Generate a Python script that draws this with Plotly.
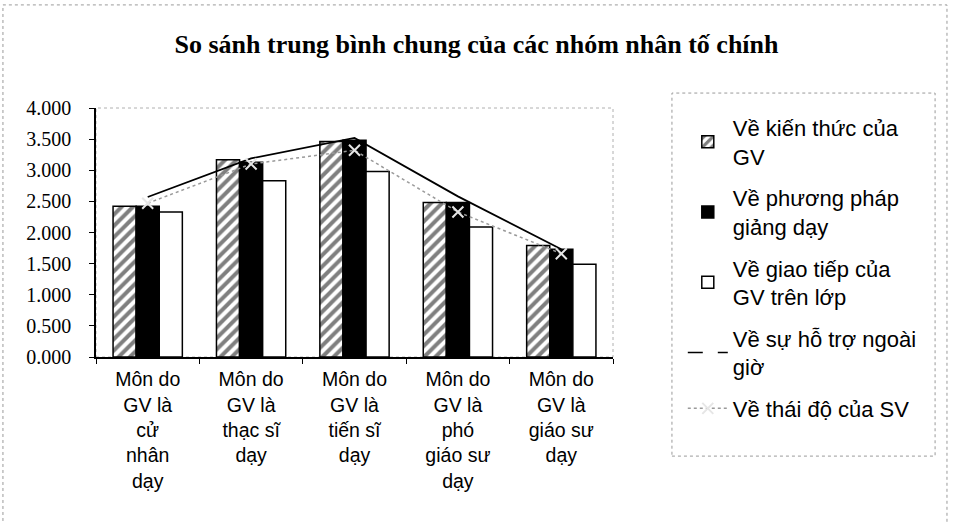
import plotly.graph_objects as go

# Categories (teacher qualification)
categories = [
    "Môn do<br>GV là<br>cử<br>nhân<br>dạy",
    "Môn do<br>GV là<br>thạc sĩ<br>dạy",
    "Môn do<br>GV là<br>tiến sĩ<br>dạy",
    "Môn do<br>GV là<br>phó<br>giáo sư<br>dạy",
    "Môn do<br>GV là<br>giáo sư<br>dạy",
]

# Mean scores per factor group
kien_thuc = [2.42, 3.17, 3.46, 2.48, 1.79]
phuong_phap = [2.42, 3.13, 3.48, 2.48, 1.73]
giao_tiep = [2.33, 2.83, 2.98, 2.09, 1.49]
ho_tro = [2.57, 3.19, 3.52, 2.58, 1.73]
thai_do = [2.47, 3.10, 3.32, 2.33, 1.66]

names = [
    "Về kiến thức của<br>GV",
    "Về phương pháp<br>giảng dạy",
    "Về giao tiếp của<br>GV trên lớp",
    "Về sự hỗ trợ ngoài<br>giờ",
    "Về thái độ của SV",
]

y_ticks = [0, 0.5, 1, 1.5, 2, 2.5, 3, 3.5, 4]

SANS = "Liberation Sans, Arial, sans-serif"
SERIF = "Liberation Serif, Times New Roman, serif"

fig = go.Figure()

fig.add_trace(go.Bar(
    x=categories, y=kien_thuc, name=names[0], legendgroup="a",
    marker=dict(color="white",
                pattern=dict(shape="/", fgcolor="black", bgcolor="white",
                             size=8, solidity=0.5),
                line=dict(color="black", width=1.5)),
))
fig.add_trace(go.Bar(
    x=categories, y=phuong_phap, name=names[1], legendgroup="b",
    marker=dict(color="black", line=dict(color="black", width=1.5)),
))
fig.add_trace(go.Bar(
    x=categories, y=giao_tiep, name=names[2], legendgroup="c",
    marker=dict(color="white", line=dict(color="black", width=1.5)),
))

# Out-of-class support: solid line on the plot, long-dash key in the legend
fig.add_trace(go.Scatter(
    x=categories, y=ho_tro, mode="lines", showlegend=False, legendgroup="d",
    line=dict(color="black", width=1.8),
))
fig.add_trace(go.Scatter(
    x=[None], y=[None], mode="lines", name=names[3], legendgroup="d",
    line=dict(color="black", width=1.5, dash="longdash"),
))

fig.add_trace(go.Scatter(
    x=categories, y=thai_do, mode="lines+markers", name=names[4], legendgroup="e",
    line=dict(color="#9a9a9a", width=1.5, dash="dot"),
    marker=dict(symbol="x-thin", size=11, color="#e6e6e6",
                line=dict(color="#e6e6e6", width=2)),
))

fig.update_layout(
    width=953, height=524,
    margin=dict(l=96, r=340, t=108, b=167),
    paper_bgcolor="white", plot_bgcolor="white",
    barmode="group", bargap=0.33, bargroupgap=0,
    title=dict(text="<b>So sánh trung bình chung của các nhóm nhân tố chính</b>",
               x=0.5, xanchor="center", y=1 - 44 / 524, yanchor="middle",
               font=dict(family=SERIF, size=26, color="black")),
    font=dict(family=SANS, color="black"),
    legend=dict(x=1.135, xanchor="left", y=1.005, yanchor="top",
                font=dict(family=SANS, size=22, color="black"),
                bgcolor="rgba(0,0,0,0)", borderwidth=0, maxheight=500,
                traceorder="grouped", tracegroupgap=10, itemwidth=40),
    showlegend=True,
)

fig.update_xaxes(
    type="category", showline=True, linecolor="black", linewidth=1.5,
    ticks="outside", tickson="boundaries", ticklen=5, tickcolor="black",
    ticklabelstandoff=4,
    tickfont=dict(family=SANS, size=19.5, color="black"),
    showgrid=False, zeroline=False,
)
fig.update_yaxes(
    range=[0, 4], tickvals=y_ticks, tickformat=".3f",
    showline=True, linecolor="black", linewidth=1.5,
    ticks="outside", ticklen=5, tickcolor="black", ticklabelstandoff=14,
    tickfont=dict(family=SERIF, size=20, color="black"),
    showgrid=False, zeroline=False,
)

# Faint plot-area frame, legend frame and outer chart frame
fig.add_shape(type="rect", xref="paper", yref="paper", x0=0, x1=1, y0=0, y1=1,
              line=dict(color="#b0b0b0", width=1, dash="dot"), layer="below")
fig.add_shape(type="rect", xref="paper", yref="paper",
              x0=1.114, x1=1.623, y0=-0.398, y1=1.060,
              line=dict(color="#9a9a9a", width=1, dash="dot"))
fig.add_shape(type="rect", xref="paper", yref="paper",
              x0=-0.180, x1=1.646, y0=-0.75, y1=1.414,
              line=dict(color="#9a9a9a", width=1, dash="dot"))

fig.write_html("out.html")
